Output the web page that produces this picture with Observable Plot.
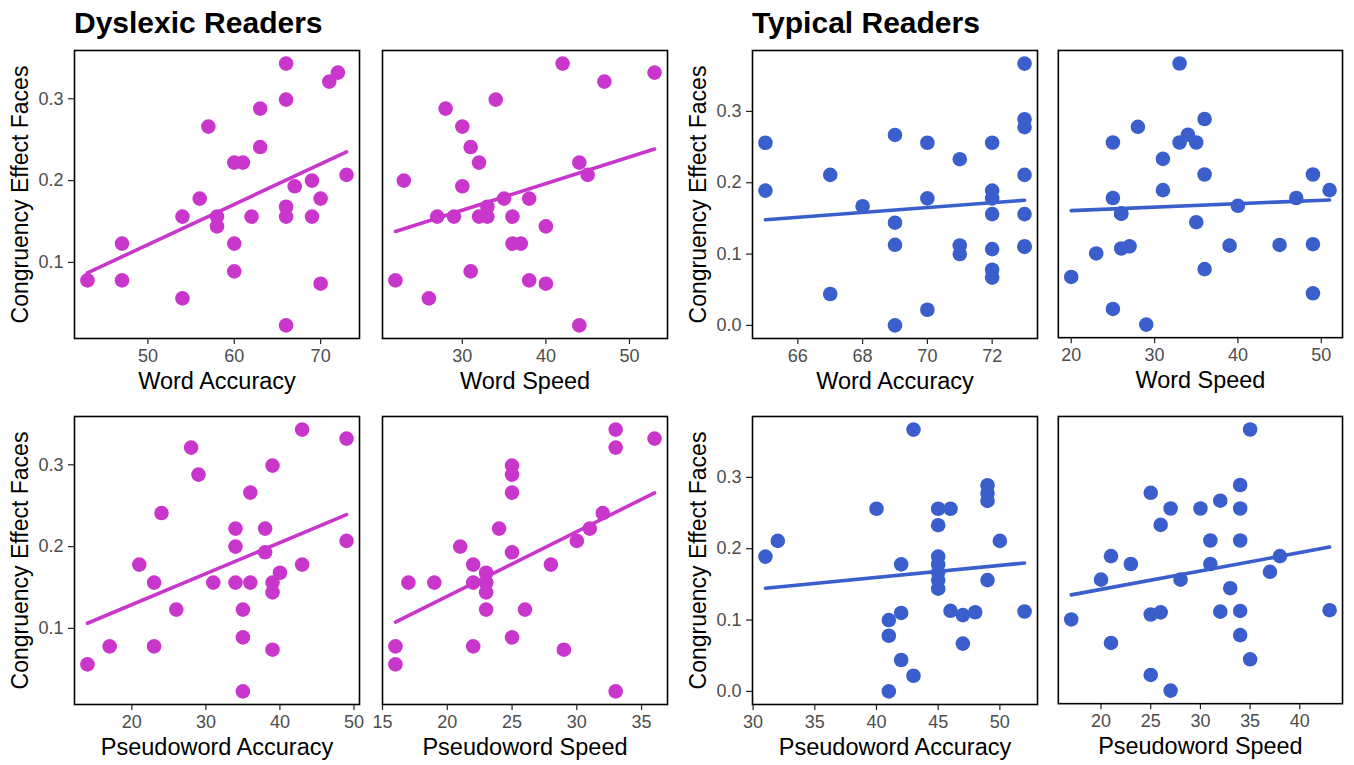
<!DOCTYPE html>
<html>
<head>
<meta charset="utf-8">
<script src="https://cdn.jsdelivr.net/npm/d3@7"></script>
<script src="https://cdn.jsdelivr.net/npm/@observablehq/plot@0.6"></script>
<style>
  body { margin: 0; background: #fff; }
  #chart { position: relative; width: 1354px; height: 765px; overflow: hidden;
           font-family: Arial, "Liberation Sans", Helvetica, sans-serif; }
  .title { position: absolute; font-weight: bold; font-size: 30px; line-height: 1; color: #000; white-space: nowrap; }
  .panel { position: absolute; }
</style>
</head>
<body>
<div id="chart"></div>
<script>
// ---- Data (each subject: congruency effect + reading measures) ----
const groupTitles = ["Dyslexic Readers", "Typical Readers"];
const yLabel = "Congruency Effect Faces";
const measureLabels = ["Word Accuracy", "Word Speed", "Pseudoword Accuracy", "Pseudoword Speed"];

const dysEffect = [0.023, 0.056, 0.074, 0.078, 0.078, 0.089, 0.123, 0.123, 0.144, 0.156, 0.156, 0.156, 0.156, 0.156, 0.168, 0.178, 0.178, 0.193, 0.2, 0.207, 0.222, 0.222, 0.241, 0.266, 0.288, 0.299, 0.321, 0.332, 0.343];
const dysWordAcc = [66, 54, 70, 43, 47, 60, 47, 60, 58, 54, 58, 62, 66, 69, 66, 56, 70, 67, 69, 73, 60, 61, 63, 57, 63, 66, 71, 72, 66];
const dysWordSpeed = [44, 26, 40, 22, 38, 31, 36, 37, 40, 27, 29, 32, 33, 36, 33, 35, 38, 30, 23, 45, 32, 44, 31, 30, 28, 34, 47, 53, 42];
const dysPseudoAcc = [35, 14, 39, 17, 23, 35, 26, 35, 39, 23, 31, 34, 36, 39, 40, 21, 43, 38, 34, 49, 34, 38, 24, 36, 29, 39, 28, 49, 43];
const dysPseudoSpeed = [33, 16, 29, 16, 22, 25, 23, 26, 23, 17, 19, 22, 23, 23, 23, 22, 28, 25, 21, 30, 24, 31, 32, 25, 25, 25, 33, 36, 33];

const typEffect = [0, 0.022, 0.044, 0.067, 0.078, 0.1, 0.107, 0.110, 0.111, 0.112, 0.113, 0.144, 0.156, 0.156, 0.167, 0.178, 0.178, 0.189, 0.189, 0.211, 0.211, 0.233, 0.256, 0.256, 0.256, 0.267, 0.278, 0.289, 0.367];
const typWordAcc = [69, 70, 67, 72, 72, 71, 72, 73, 73, 71, 69, 69, 72, 73, 68, 70, 72, 65, 72, 67, 73, 71, 65, 70, 72, 69, 73, 73, 73];
const typWordSpeed = [29, 25, 49, 20, 36, 23, 26, 27, 39, 45, 49, 35, 26, 26, 40, 25, 47, 31, 51, 36, 49, 31, 25, 33, 35, 34, 28, 36, 33];
const typPseudoAcc = [41, 43, 42, 47, 41, 41, 47, 42, 48, 52, 46, 45, 45, 49, 45, 42, 45, 31, 45, 32, 50, 45, 40, 45, 46, 49, 49, 49, 43];
const typPseudoSpeed = [27, 25, 35, 21, 34, 17, 25, 26, 32, 34, 43, 33, 20, 28, 37, 23, 31, 21, 38, 31, 34, 26, 27, 30, 34, 32, 25, 34, 35];

// tick labels
const dysYTicks = [0.1, 0.2, 0.3];
const typYTicks = [0.0, 0.1, 0.2, 0.3];
const xTicks = {
  dysWordAcc: [50, 60, 70],
  dysWordSpeed: [30, 40, 50],
  dysPseudoAcc: [20, 30, 40, 50],
  dysPseudoSpeed: [15, 20, 25, 30, 35],
  typWordAcc: [66, 68, 70, 72],
  typWordSpeed: [20, 30, 40, 50],
  typPseudoAcc: [30, 35, 40, 45, 50],
  typPseudoSpeed: [20, 25, 30, 35, 40]
};
const dysColor = "#C936CB";
const typColor = "#3A5FCD";

// ---- Layout ----
const frameW = 285, frameH = 288;
const colLeft = [74, 381.5, 752, 1058];
const rowTop = [50, 416];
const mL = 70, mR = 12, mT = 12, mB = 62;
const font = 'Arial, "Liberation Sans", Helvetica, sans-serif';

function expand(arr) {
  const [a, b] = d3.extent(arr);
  const r = b - a;
  return [a - 0.05 * r, b + 0.05 * r];
}

const panels = [
  {xs: dysWordAcc, ys: dysEffect, ticks: xTicks.dysWordAcc, label: measureLabels[0], col: 0, row: 0, color: dysColor, yTicks: dysYTicks, showY: true},
  {xs: dysWordSpeed, ys: dysEffect, ticks: xTicks.dysWordSpeed, label: measureLabels[1], col: 1, row: 0, color: dysColor, yTicks: dysYTicks, showY: false},
  {xs: dysPseudoAcc, ys: dysEffect, ticks: xTicks.dysPseudoAcc, label: measureLabels[2], col: 0, row: 1, color: dysColor, yTicks: dysYTicks, showY: true},
  {xs: dysPseudoSpeed, ys: dysEffect, ticks: xTicks.dysPseudoSpeed, label: measureLabels[3], col: 1, row: 1, color: dysColor, yTicks: dysYTicks, showY: false},
  {xs: typWordAcc, ys: typEffect, ticks: xTicks.typWordAcc, label: measureLabels[0], col: 2, row: 0, color: typColor, yTicks: typYTicks, showY: true},
  {xs: typWordSpeed, ys: typEffect, ticks: xTicks.typWordSpeed, label: measureLabels[1], col: 3, row: 0, color: typColor, yTicks: typYTicks, showY: false},
  {xs: typPseudoAcc, ys: typEffect, ticks: xTicks.typPseudoAcc, label: measureLabels[2], col: 2, row: 1, color: typColor, yTicks: typYTicks, showY: true},
  {xs: typPseudoSpeed, ys: typEffect, ticks: xTicks.typPseudoSpeed, label: measureLabels[3], col: 3, row: 1, color: typColor, yTicks: typYTicks, showY: false}
];

const chart = document.getElementById("chart");

groupTitles.forEach((t, i) => {
  const d = document.createElement("div");
  d.className = "title";
  d.textContent = t;
  d.style.left = (i === 0 ? colLeft[0] : colLeft[2]) + "px";
  d.style.top = "8px";
  chart.appendChild(d);
});

panels.forEach(p => {
  const data = p.xs.map((x, i) => ({x, y: p.ys[i]}));
  const marks = [
    Plot.frame({stroke: "#000", strokeWidth: 1.6}),
    Plot.axisX({ticks: p.ticks, tickSize: 6, tickPadding: 5, fontSize: 18, fill: "#4d4d4d", stroke: "#222", strokeWidth: 1.2, label: null}),
    Plot.text([p.label], {frameAnchor: "bottom", dy: 50, lineAnchor: "bottom", textAnchor: "middle", fontSize: 23.5, fill: "#000"}),
    Plot.dot(data, {x: "x", y: "y", r: 7.3, fill: p.color, stroke: "none"}),
    Plot.linearRegressionY(data, {x: "x", y: "y", stroke: p.color, strokeWidth: 3.6, ci: 0})
  ];
  if (p.showY) {
    marks.push(Plot.axisY({ticks: p.yTicks, tickFormat: d3.format(".1f"), tickSize: 6, tickPadding: 5, fontSize: 18, fill: "#4d4d4d", stroke: "#222", strokeWidth: 1.2, label: null}));
    marks.push(Plot.text([yLabel], {frameAnchor: "left", rotate: -90, dx: -54, textAnchor: "middle", lineAnchor: "middle", fontSize: 23, fill: "#000"}));
  }
  const plot = Plot.plot({
    width: frameW + mL + mR,
    height: frameH + mT + mB,
    marginLeft: mL, marginRight: mR, marginTop: mT, marginBottom: mB,
    style: {fontFamily: font, background: "transparent", overflow: "visible"},
    x: {domain: expand(p.xs)},
    y: {domain: expand(p.ys), axis: p.showY ? undefined : null},
    marks
  });
  const wrap = document.createElement("div");
  wrap.className = "panel";
  wrap.style.left = (colLeft[p.col] - mL) + "px";
  wrap.style.top = (rowTop[p.row] - mT) + "px";
  wrap.appendChild(plot);
  chart.appendChild(wrap);
});
</script>
</body>
</html>
